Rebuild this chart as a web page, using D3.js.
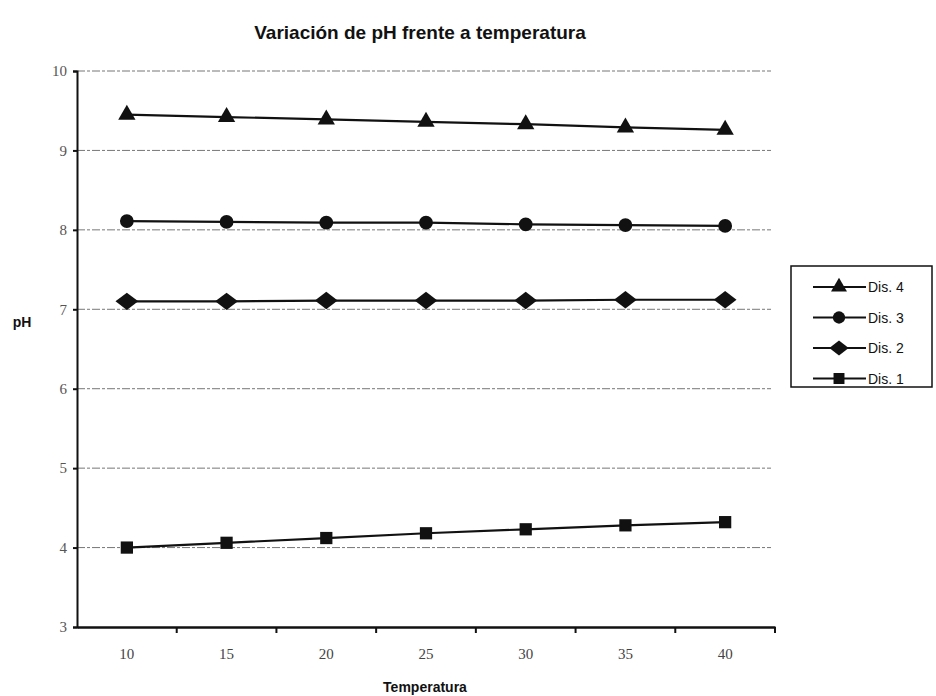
<!DOCTYPE html>
<html><head><meta charset="utf-8">
<script src="https://cdn.jsdelivr.net/npm/d3@7"></script>
<style>body{margin:0;background:#fff;}svg{display:block;}</style>
</head><body>
<svg id="c" width="936" height="696"></svg>
<script>
const categories = ["10","15","20","25","30","35","40"];
const dis4 = [9.45, 9.42, 9.39, 9.36, 9.33, 9.29, 9.26];
const dis3 = [8.11, 8.10, 8.09, 8.09, 8.07, 8.06, 8.05];
const dis2 = [7.10, 7.10, 7.11, 7.11, 7.11, 7.12, 7.12];
const dis1 = [4.00, 4.06, 4.12, 4.18, 4.23, 4.28, 4.32];
const yTicks = [3,4,5,6,7,8,9,10];
const seriesNames = ["Dis. 4","Dis. 3","Dis. 2","Dis. 1"];
const seriesData = [dis4, dis3, dis2, dis1];

// wide diamond symbol (like spreadsheet marker)
const wideDiamond = {draw(ctx, size) {
  const h = Math.sqrt(size) * 0.55, w = Math.sqrt(size) * 0.72;
  ctx.moveTo(0, -h); ctx.lineTo(w, 0); ctx.lineTo(0, h); ctx.lineTo(-w, 0); ctx.closePath();
}};
const seriesSymbols = [d3.symbolTriangle, d3.symbolCircle, wideDiamond, d3.symbolSquare];

const svg = d3.select("#c");
const L = 77, R = 775, T = 71, B = 627;
const x = d3.scaleBand().domain(categories).range([L, R]);
const y = d3.scaleLinear().domain([3, 10]).range([B, T]);

// title
svg.append("text").attr("x", 420).attr("y", 39).attr("text-anchor", "middle")
  .attr("font-family", "Arial, Liberation Sans, sans-serif").attr("font-weight", "bold")
  .attr("font-size", 19).attr("fill", "#111").text("Variación de pH frente a temperatura");

// grid
svg.append("g").selectAll("line").data(yTicks.filter(d => d > 3)).join("line")
  .attr("x1", L).attr("x2", R - 4).attr("y1", d => y(d)).attr("y2", d => y(d))
  .attr("stroke", "#777").attr("stroke-width", 1).attr("stroke-dasharray", "8,2,3,2");

// y axis
const ya = svg.append("g").attr("transform", `translate(${L},0)`)
  .call(d3.axisLeft(y).tickValues(yTicks).tickFormat(d3.format("d")).tickSize(4).tickPadding(6));
ya.select(".domain").attr("stroke", "#111").attr("stroke-width", 2);
ya.selectAll(".tick line").attr("stroke", "#111").attr("stroke-width", 2);
ya.selectAll("text").attr("font-family", "Liberation Serif, Times New Roman, serif")
  .attr("font-size", 15).attr("fill", "#555");

// x axis
const xa = svg.append("g").attr("transform", `translate(0,${B})`)
  .call(d3.axisBottom(x).tickSize(0).tickPadding(21));
xa.select(".domain").attr("stroke", "#111").attr("stroke-width", 2.5);
xa.selectAll("text").attr("font-family", "Liberation Serif, Times New Roman, serif")
  .attr("font-size", 15).attr("fill", "#444");
// boundary ticks
const bounds = categories.map(c => x(c) + x.bandwidth());
svg.append("g").selectAll("line").data(bounds).join("line")
  .attr("x1", d => d).attr("x2", d => d).attr("y1", B).attr("y2", B + 6)
  .attr("stroke", "#111").attr("stroke-width", 2);

// axis titles
svg.append("text").attr("x", 22).attr("y", 327).attr("text-anchor", "middle")
  .attr("font-family", "Arial, Liberation Sans, sans-serif").attr("font-weight", "bold")
  .attr("font-size", 14).attr("fill", "#111").text("pH");
svg.append("text").attr("x", 425).attr("y", 692).attr("text-anchor", "middle")
  .attr("font-family", "Arial, Liberation Sans, sans-serif").attr("font-weight", "bold")
  .attr("font-size", 14).attr("fill", "#111").text("Temperatura");

// series
const line = d3.line().x((d, i) => x(categories[i]) + x.bandwidth() / 2).y(d => y(d));
const sizes = [130, 150, 250, 150];
seriesData.forEach((vals, si) => {
  svg.append("path").datum(vals).attr("d", line).attr("fill", "none")
    .attr("stroke", "#111").attr("stroke-width", 2.2);
  svg.append("g").selectAll("path").data(vals).join("path")
    .attr("transform", (d, i) => `translate(${x(categories[i]) + x.bandwidth() / 2},${y(d)})`)
    .attr("d", d3.symbol().type(seriesSymbols[si]).size(sizes[si])).attr("fill", "#111");
});

// legend
const lg = svg.append("g");
lg.append("rect").attr("x", 791).attr("y", 266).attr("width", 141).attr("height", 121)
  .attr("fill", "#fff").attr("stroke", "#111").attr("stroke-width", 1.5);
const lsizes = [110, 120, 180, 120];
seriesNames.forEach((n, i) => {
  const yy = 287 + i * 30.5;
  lg.append("line").attr("x1", 813).attr("x2", 866).attr("y1", yy).attr("y2", yy)
    .attr("stroke", "#111").attr("stroke-width", 2);
  lg.append("path").attr("transform", `translate(839,${yy})`)
    .attr("d", d3.symbol().type(seriesSymbols[i]).size(lsizes[i])).attr("fill", "#111");
  lg.append("text").attr("x", 868).attr("y", yy + 5)
    .attr("font-family", "Arial, Liberation Sans, sans-serif")
    .attr("font-size", 14).attr("fill", "#111").text(n);
});
</script>
</body></html>
